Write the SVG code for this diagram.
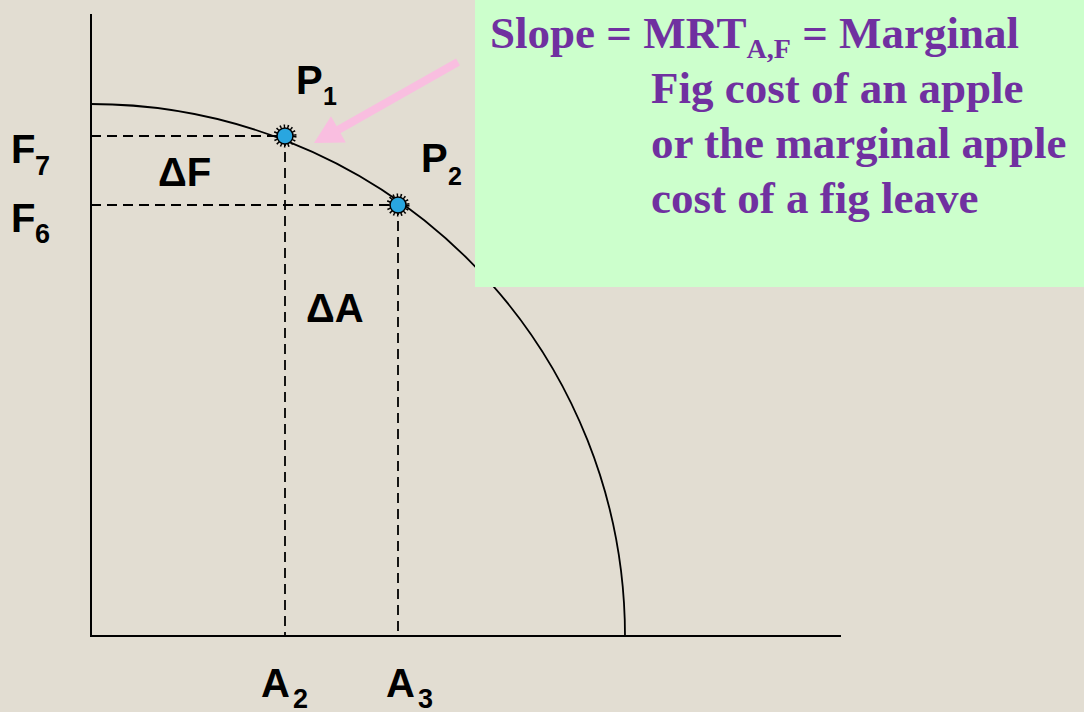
<svg xmlns="http://www.w3.org/2000/svg" width="1084" height="712" viewBox="0 0 1084 712">
  <style>
    .axis { stroke: #000; stroke-width: 2; fill: none; }
    .curve { stroke: #000; stroke-width: 1.8; fill: none; }
    .dash { stroke: #000; stroke-width: 1.8; stroke-dasharray: 10 6; fill: none; }
    .lbl { font-family: "Liberation Sans", Arial, sans-serif; font-weight: bold; fill: #000; }
    .big { font-size: 40px; }
    .sub { font-size: 27px; }
    .sm { font-size: 25px; }
    .note { font-family: "Liberation Serif", "Times New Roman", serif; font-weight: bold; font-size: 45px; fill: #7030A0; }
    .pt { fill: #29A6E0; stroke: #000; stroke-width: 1.5; }
    .spk { fill: none; stroke: #000; stroke-width: 4; stroke-dasharray: 1.4 2.2; }
  </style>
  <rect x="0" y="0" width="1084" height="712" fill="#E2DDD2"/>

  <g id="axes">
    <line class="axis" x1="91" y1="14" x2="91" y2="637"/>
    <line class="axis" x1="90" y1="636" x2="841" y2="636"/>
  </g>

  <g id="curve">
    <path class="curve" d="M 91 104 A 534 532 0 0 1 625 636"/>
  </g>

  <g id="connectors">
    <line class="dash" x1="91" y1="136" x2="285" y2="136"/>
    <line class="dash" x1="285" y1="136" x2="285" y2="636"/>
    <line class="dash" x1="91" y1="205" x2="398" y2="205"/>
    <line class="dash" x1="398" y1="205" x2="398" y2="636"/>
  </g>

  <g id="point-P1">
    <circle class="spk" cx="285" cy="136" r="9.5"/>
    <circle class="pt" cx="285" cy="136" r="8"/>
  </g>
  <g id="point-P2">
    <circle class="spk" cx="398" cy="205" r="9.5"/>
    <circle class="pt" cx="398" cy="205" r="8"/>
  </g>

  <g id="labels">
    <text class="lbl big" x="296" y="94">P</text>
    <text class="lbl sm" x="323" y="105">1</text>
    <text class="lbl big" x="421" y="172">P</text>
    <text class="lbl sm" x="448" y="185">2</text>
    <text class="lbl big" x="11" y="163">F</text>
    <text class="lbl sub" x="35" y="175">7</text>
    <text class="lbl big" x="11" y="232">F</text>
    <text class="lbl sub" x="35" y="243">6</text>
    <text class="lbl big" x="158" y="186">ΔF</text>
    <text class="lbl big" x="306" y="322">ΔA</text>
    <text class="lbl big" x="261" y="697">A</text>
    <text class="lbl sub" x="293" y="708">2</text>
    <text class="lbl big" x="386" y="697">A</text>
    <text class="lbl sub" x="418" y="708">3</text>
  </g>

  <g id="note-box">
    <rect x="475" y="0" width="609" height="287" fill="#CCFFCC"/>
    <text class="note" x="490" y="48">Slope = MRT<tspan font-size="28" dy="10">A,F</tspan><tspan dy="-10"> = Marginal</tspan></text>
    <text class="note" x="651" y="103">Fig cost of an apple</text>
    <text class="note" x="651" y="158">or the marginal apple</text>
    <text class="note" x="651" y="213">cost of a fig leave</text>
  </g>

  <g id="pointer-arrow">
    <line x1="458" y1="62" x2="338" y2="130" stroke="#F9BEE0" stroke-width="8"/>
    <polygon points="314,143 345.8,142.4 331,116.2" fill="#F9BEE0"/>
  </g>
</svg>
